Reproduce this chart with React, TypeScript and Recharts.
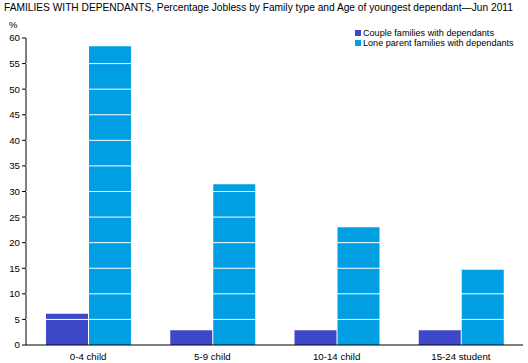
import { BarChart, Bar, XAxis, YAxis, ReferenceLine } from 'recharts'

// Percentage jobless, Jun 2011
const categories = ['0-4 child', '5-9 child', '10-14 child', '15-24 student']
const coupleFamilies = [6.1, 2.9, 2.9, 2.9]
const loneParentFamilies = [58.4, 31.4, 23.0, 14.7]
const yTicks = [0, 5, 10, 15, 20, 25, 30, 35, 40, 45, 50, 55, 60]

const COUPLE = '#3c48c8'
const LONE = '#009fe3'
const FONT = '"Liberation Sans", Arial, sans-serif'

const data = categories.map((name, i) => ({
  name,
  couple: coupleFamilies[i],
  lone: loneParentFamilies[i],
}))

const legendItems = [
  { label: 'Couple families with dependants', color: COUPLE },
  { label: 'Lone parent families with dependants', color: LONE },
]

export default function App() {
  return (
    <div style={{ position: 'absolute', left: 0, top: 0, width: 528, height: 363, fontFamily: FONT, color: '#000' }}>
      <div style={{ position: 'absolute', left: 4, top: 2, fontSize: 10.2, whiteSpace: 'nowrap' }}>
        FAMILIES WITH DEPENDANTS, Percentage Jobless by Family type and Age of youngest dependant—Jun 2011
      </div>
      <div style={{ position: 'absolute', left: 9, top: 19, fontSize: 9.5 }}>%</div>
      <div style={{ position: 'absolute', left: 355, top: 28 }}>
        {legendItems.map((item) => (
          <div key={item.label} style={{ display: 'flex', alignItems: 'center', height: 10, fontSize: 9.1, whiteSpace: 'nowrap' }}>
            <span style={{ width: 6, height: 6, background: item.color, marginRight: 2 }} />
            {item.label}
          </div>
        ))}
      </div>
      <BarChart
        width={528}
        height={363}
        data={data}
        margin={{ top: 38, right: 5, bottom: 0, left: 0 }}
        barGap={1}
        barSize={42}
      >
        <XAxis
          dataKey="name"
          axisLine={{ stroke: '#000' }}
          tickLine={false}
          tick={{ fill: '#000', fontSize: 9.7, fontFamily: FONT }}
          height={18}
          interval={0}
        />
        <YAxis
          domain={[0, 60]}
          ticks={yTicks}
          width={26}
          axisLine={{ stroke: '#000' }}
          tickLine={{ stroke: '#000' }}
          tickSize={4}
          tick={{ fill: '#000', fontSize: 9.7, fontFamily: FONT }}
          interval={0}
        />
        <Bar dataKey="couple" fill={COUPLE} isAnimationActive={false} />
        <Bar dataKey="lone" fill={LONE} isAnimationActive={false} />
        {yTicks.slice(1, -1).map((t) => (
          <ReferenceLine key={t} y={t} stroke="#fff" strokeWidth={1} zIndex={900} />
        ))}
      </BarChart>
    </div>
  )
}
